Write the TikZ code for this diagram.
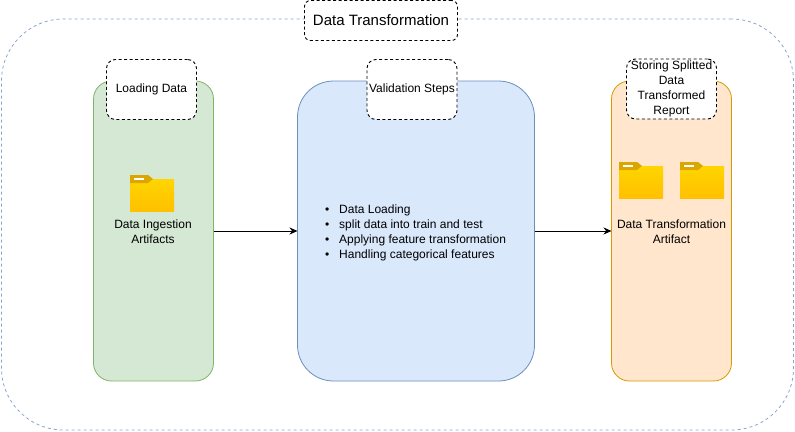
\documentclass[tikz,border=0pt]{standalone}
\usepackage{fontspec}
\setmainfont{Liberation Sans}
\usepackage{xcolor}
\usetikzlibrary{arrows.meta}
\definecolor{greenfill}{HTML}{D5E8D4}
\definecolor{greenline}{HTML}{82B366}
\definecolor{bluefill}{HTML}{DAE8FC}
\definecolor{blueline}{HTML}{6C8EBF}
\definecolor{orangefill}{HTML}{FFE6CC}
\definecolor{orangeline}{HTML}{D79B00}
\definecolor{foldertop}{HTML}{FFD500}
\definecolor{folderbottom}{HTML}{FFC000}
\definecolor{foldertab}{HTML}{DBA600}
\tikzset{x=1pt,y=-1pt,
    every node/.style={inner sep=0pt,outer sep=0pt,font=\fontsize{12}{15}\selectfont},
    stage/.style={draw,line width=0.8pt,minimum width=120pt,minimum height=300pt,rounded corners=18pt},
    tag/.style={draw,fill=white,dashed,line width=0.9pt,dash pattern=on 3pt off 2.5pt,
        minimum width=90pt,minimum height=60pt,rounded corners=9pt,align=center},
    caption/.style={align=center},
    flow/.style={draw,line width=0.9pt,-{Stealth[length=8pt,width=7pt]}},
    folder/.pic={
        \fill[top color=foldertop,bottom color=folderbottom] (0,4) rectangle (44,36);
        \fill[foldertab] (0,0) -- (18,0) -- (23,4) -- (18,8) -- (0,8) -- cycle;
        \fill[white] (4,2.5) rectangle (14,4.5);
    }}

\begin{document}
\begin{tikzpicture}
    \useasboundingbox (0,0) rectangle (795,431);
    % outer frame
    \node[draw=blueline!80,dashed,line width=0.8pt,dash pattern=on 3pt off 3pt,
        minimum width=792pt,minimum height=411pt,rounded corners=62pt] (frame) at (397.5,224.5) {};
    \node[tag,fill=white,minimum width=153pt,minimum height=40pt,rounded corners=6pt,
        font=\fontsize{15}{18}\selectfont] (title) at (381,20.5) {Data Transformation};
    % stages
    \node[stage,fill=greenfill,draw=greenline] (load) at (153.5,231) {};
    \node[stage,fill=bluefill,draw=blueline,minimum width=237pt,rounded corners=36pt] (steps) at (416,231) {};
    \node[stage,fill=orangefill,draw=orangeline] (store) at (671.5,231) {};
    % tags
    \node[tag] (loadtag) at (151.5,89.5) {Loading Data};
    \node[tag] (stepstag) at (412,89.5) {Validation Steps};
    \node[tag] (storetag) at (671.5,89) {Storing Splitted\\Data\\Transformed\\Report};
    % folders
    \pic (ingested) at (130,175) {folder};
    \pic (splitted) at (619,162) {folder};
    \pic (report) at (680,162) {folder};
    % captions
    \node[caption] (loadtext) at (153,231.5) {Data Ingestion\\Artifacts};
    \node[caption] (storetext) at (671.5,231.5) {Data Transformation\\Artifact};
    \node[anchor=west] (stepstext) at (325,232.5) {\begin{tabular}{@{}c@{\hskip 10pt}l@{}}
        \textbullet & Data Loading\\
        \textbullet & split data into train and test\\
        \textbullet & Applying feature transformation\\
        \textbullet & Handling categorical features
    \end{tabular}};
    % arrows
    \draw[flow] (load) -- (steps);
    \draw[flow] (steps) -- (store);
\end{tikzpicture}
\end{document}
